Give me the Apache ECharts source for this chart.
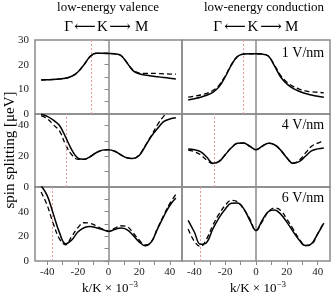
<!DOCTYPE html>
<html><head><meta charset="utf-8">
<script src="https://cdn.jsdelivr.net/npm/echarts@6/dist/echarts.min.js"></script>
<style>html,body{margin:0;padding:0;background:#fff}#c{width:332px;height:295px}</style>
</head><body><div id="c"></div>
<script>
const k = [-44,-40,-36,-32,-28,-24,-20,-16,-12,-8,-4,0,4,8,12,16,20,24,28,32,36,40,44];
// valence 1 V/nm
const v1Solid  = [13.8,13.9,14.0,14.2,14.5,15.3,17.0,20.0,23.3,24.6,24.6,24.5,24.4,23.8,20.8,17.6,16.3,15.8,15.4,15.1,14.8,14.5,14.2];
const v1Dashed = [13.8,13.9,14.0,14.2,14.5,15.3,17.0,20.0,23.3,24.6,24.6,24.5,24.4,23.8,20.9,17.9,16.6,16.5,16.5,16.4,16.3,16.2,16.2];
// conduction 1 V/nm
const c1Solid  = [5.7,6.2,6.8,7.6,8.8,11.0,15.0,19.8,23.3,24.3,24.4,24.4,24.3,23.5,19.5,15.0,12.2,10.4,9.2,8.3,7.7,7.2,6.8];
const c1Dashed = [6.8,7.2,7.7,8.4,9.5,11.6,15.4,20.0,23.3,24.3,24.4,24.4,24.3,23.5,19.8,15.6,12.9,11.2,10.1,9.4,9.0,8.8,8.6];
// valence 4 V/nm
const v4Solid  = [47.3,46.0,43.5,40.0,32.5,24.2,18.8,18.0,19.7,22.3,24.0,24.3,23.3,21.0,19.0,18.5,20.5,26.5,33.0,38.0,42.5,44.2,45.0];
const v4Dashed = [46.5,44.5,40.5,36.5,27.5,21.0,18.0,18.0,19.7,22.3,24.0,24.3,23.3,21.0,19.0,18.5,20.8,27.0,33.5,40.5,46.0,50.0,54.0];
// conduction 4 V/nm
const c4Solid  = [24.8,24.3,23.0,19.5,15.5,16.5,21.0,25.5,28.5,28.6,26.5,24.3,26.5,28.5,27.5,24.0,19.0,15.4,16.5,20.0,23.5,24.8,25.4];
const c4Dashed = [24.0,23.0,21.0,17.5,15.2,16.8,21.0,25.5,28.5,28.6,26.5,24.3,26.5,28.5,27.5,24.0,19.0,15.5,17.5,22.0,26.5,28.5,30.3];
// valence 6 V/nm
const v6Solid  = [61,53,38,23,14,17,23.5,27,28,27,25.5,24,25.5,26.7,25.5,21,15.5,12.3,15.5,26,36,45,51];
const v6Dashed = [56,45,30,18,13,20,27,31,30.5,28.5,26,24.5,26.5,28.6,28,23,17,13,15.5,26.5,37,46.5,54];
// conduction 6 V/nm
const c6Solid  = [33,23.5,13.5,15,26,35,42,46.8,47,42.5,33,24.7,33,40,41.3,38,31.5,24,17,12.5,14,22,30.8];
const c6Dashed = [26,16,11.8,18,29,38,45,49.2,48,42,34,24.7,32,40,43,41,34,26,18,12.5,13.5,22,31.5];

const xTicks = [-40,-30,-20,-10,0,10,20,30,40];
const xLabels = [-40,-20,0,20,40];
const fieldLabels = ['1 V/nm','4 V/nm','6 V/nm'];
const yMax = [30,47.5,60];
const yTicks = [[0,5,10,15,20,25,30],[0,10,20,30,40],[0,10,20,30,40,50]];
const yLabels = [[0,10,20,30],[0,20,40],[0,20,40]];
const markers = [[-11,-8.4],[-27.3,-27],[-36.5,-36.2]];

const serif = '"Liberation Serif","DejaVu Serif",serif';
const gray = '#8a8a8a';
const rowsTop = [40,114,187], rowsH = [74,73,74];
const colsLeft = [35,182], colsW = [147,148];
const panels = [[v1Solid,v1Dashed,c1Solid,c1Dashed],[v4Solid,v4Dashed,c4Solid,c4Dashed],[v6Solid,v6Dashed,c6Solid,c6Dashed]];

const grid=[], xAxis=[], yAxis=[], series=[];
let gi=0;
for(let r=0;r<3;r++){
  for(let c=0;c<2;c++){
    grid.push({left:colsLeft[c],top:rowsTop[r],width:colsW[c],height:rowsH[r],show:true,borderColor:gray,borderWidth:1.5,backgroundColor:'transparent'});
    const bottom = r===2;
    xAxis.push({type:'value',gridIndex:gi,min:-48,max:48,
      axisLine:{show:false},splitLine:{show:false},
      axisTick:{show:bottom,customValues:xTicks,length:4,lineStyle:{color:gray,width:1}},
      axisLabel:{show:bottom,customValues:xLabels,fontFamily:serif,fontSize:11,color:'#222',margin:6}});
    const left = c===0;
    yAxis.push({type:'value',gridIndex:gi,min:0,max:yMax[r],
      axisLine:{show:false},splitLine:{show:false},
      axisTick:{show:left,customValues:yTicks[r],length:4,lineStyle:{color:gray,width:1}},
      axisLabel:{show:left,customValues:yLabels[r],fontFamily:serif,fontSize:11,color:'#222',margin:6}});
    const d = panels[r];
    const solid = d[c*2], dashed = d[c*2+1];
    series.push({type:'line',xAxisIndex:gi,yAxisIndex:gi,data:k.map((x,i)=>[x,solid[i]]),smooth:0.4,showSymbol:false,clip:true,
      lineStyle:{color:'#000',width:1.5},z:5,
      markLine:{silent:true,symbol:'none',label:{show:false},
        data:[{xAxis:0,lineStyle:{color:gray,width:1.5,type:'solid'}},
              {xAxis:markers[r][c],lineStyle:{color:'#e49a9a',width:1,type:[2,2]}}]}});
    series.push({type:'line',xAxisIndex:gi,yAxisIndex:gi,data:k.map((x,i)=>[x,dashed[i]]),smooth:0.4,showSymbol:false,clip:true,
      lineStyle:{color:'#000',width:1.3,type:[5,3]},z:4});
    gi++;
  }
}

const txt=(text,x,y,size,extra)=>Object.assign({type:'text',x:x,y:y,style:{text:text,fill:'#000',fontFamily:serif,fontSize:size,align:'center',verticalAlign:'middle'}},extra||{});
const graphic=[
  txt('low-energy valence',108,8,13),
  txt('low-energy conduction',264,8,13),
  txt('Γ',68.5,27,15), txt('⟵',85,27,15), txt('K',102.5,27,15), txt('⟶',120,27,15), txt('M',141.7,27,15),
  txt('Γ',217.5,27,15), txt('⟵',235,27,15), txt('K',253,27,15), txt('⟶',271,27,15), txt('M',291.7,27,15),
  txt(fieldLabels[0],303,53,14), txt(fieldLabels[1],303,125,14), txt(fieldLabels[2],303,198,14),
  txt('spin splitting [μeV]',10,150,15,{rotation:Math.PI/2}),
  {type:'text',x:110,y:289,style:{text:'k/K × 10{s|−3}',fill:'#000',fontFamily:serif,fontSize:13,align:'center',verticalAlign:'middle',rich:{s:{fontSize:9,verticalAlign:'top',padding:[0,0,8,0],fontFamily:serif}}}},
  {type:'text',x:258,y:289,style:{text:'k/K × 10{s|−3}',fill:'#000',fontFamily:serif,fontSize:13,align:'center',verticalAlign:'middle',rich:{s:{fontSize:9,verticalAlign:'top',padding:[0,0,8,0],fontFamily:serif}}}}
];

const chart = echarts.init(document.getElementById('c'),null,{renderer:'canvas'});
chart.setOption({animation:false,grid:grid,xAxis:xAxis,yAxis:yAxis,series:series,graphic:graphic});
</script></body></html>
